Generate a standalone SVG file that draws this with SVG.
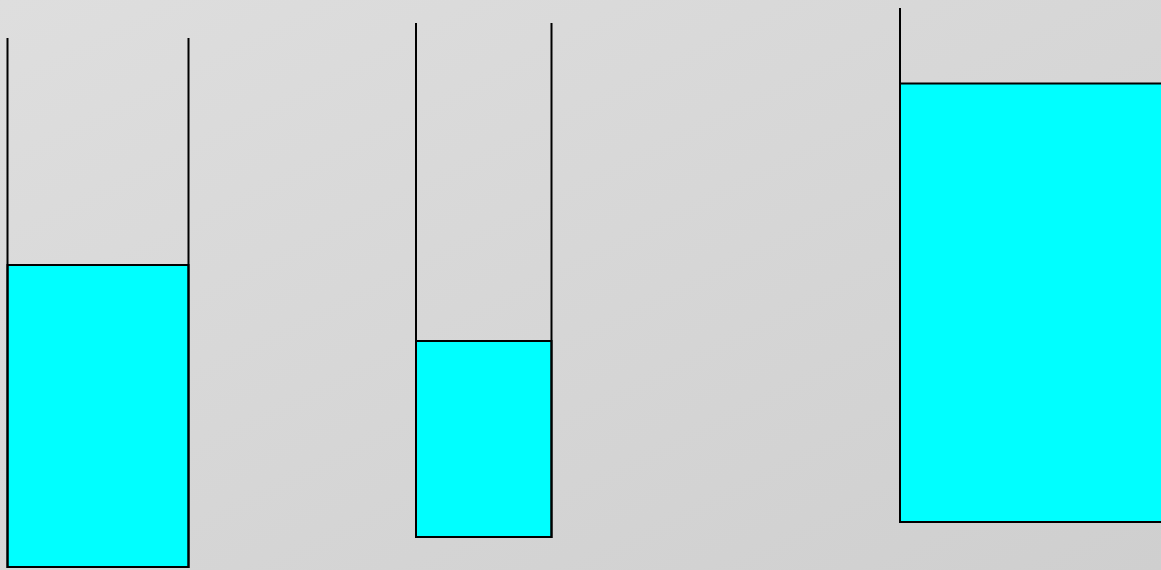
<svg xmlns="http://www.w3.org/2000/svg" width="1161" height="570" viewBox="0 0 1161 570">
<defs>
<linearGradient id="bg" x1="0" y1="0" x2="1" y2="1">
<stop offset="0" stop-color="#dedede"/>
<stop offset="1" stop-color="#cfcfcf"/>
</linearGradient>
<style>
.liq{fill:#00ffff;stroke:#000;stroke-width:2}
.wall{fill:none;stroke:#000;stroke-width:2}
</style>
</defs>
<rect width="1161" height="570" fill="url(#bg)"/>
<g id="container1">
<rect class="liq" x="7.5" y="265" width="181" height="302"/>
<path class="wall" d="M7.5 38 V567 H188.5 V38"/>
</g>
<g id="container2">
<rect class="liq" x="416" y="341" width="135.5" height="196"/>
<path class="wall" d="M416 23 V537 H551.5 V23"/>
</g>
<g id="container3">
<rect class="liq" x="900" y="83.5" width="280" height="438.5"/>
<path class="wall" d="M900 8 V522 H1180"/>
</g>
<g id="connectors"/>
</svg>
